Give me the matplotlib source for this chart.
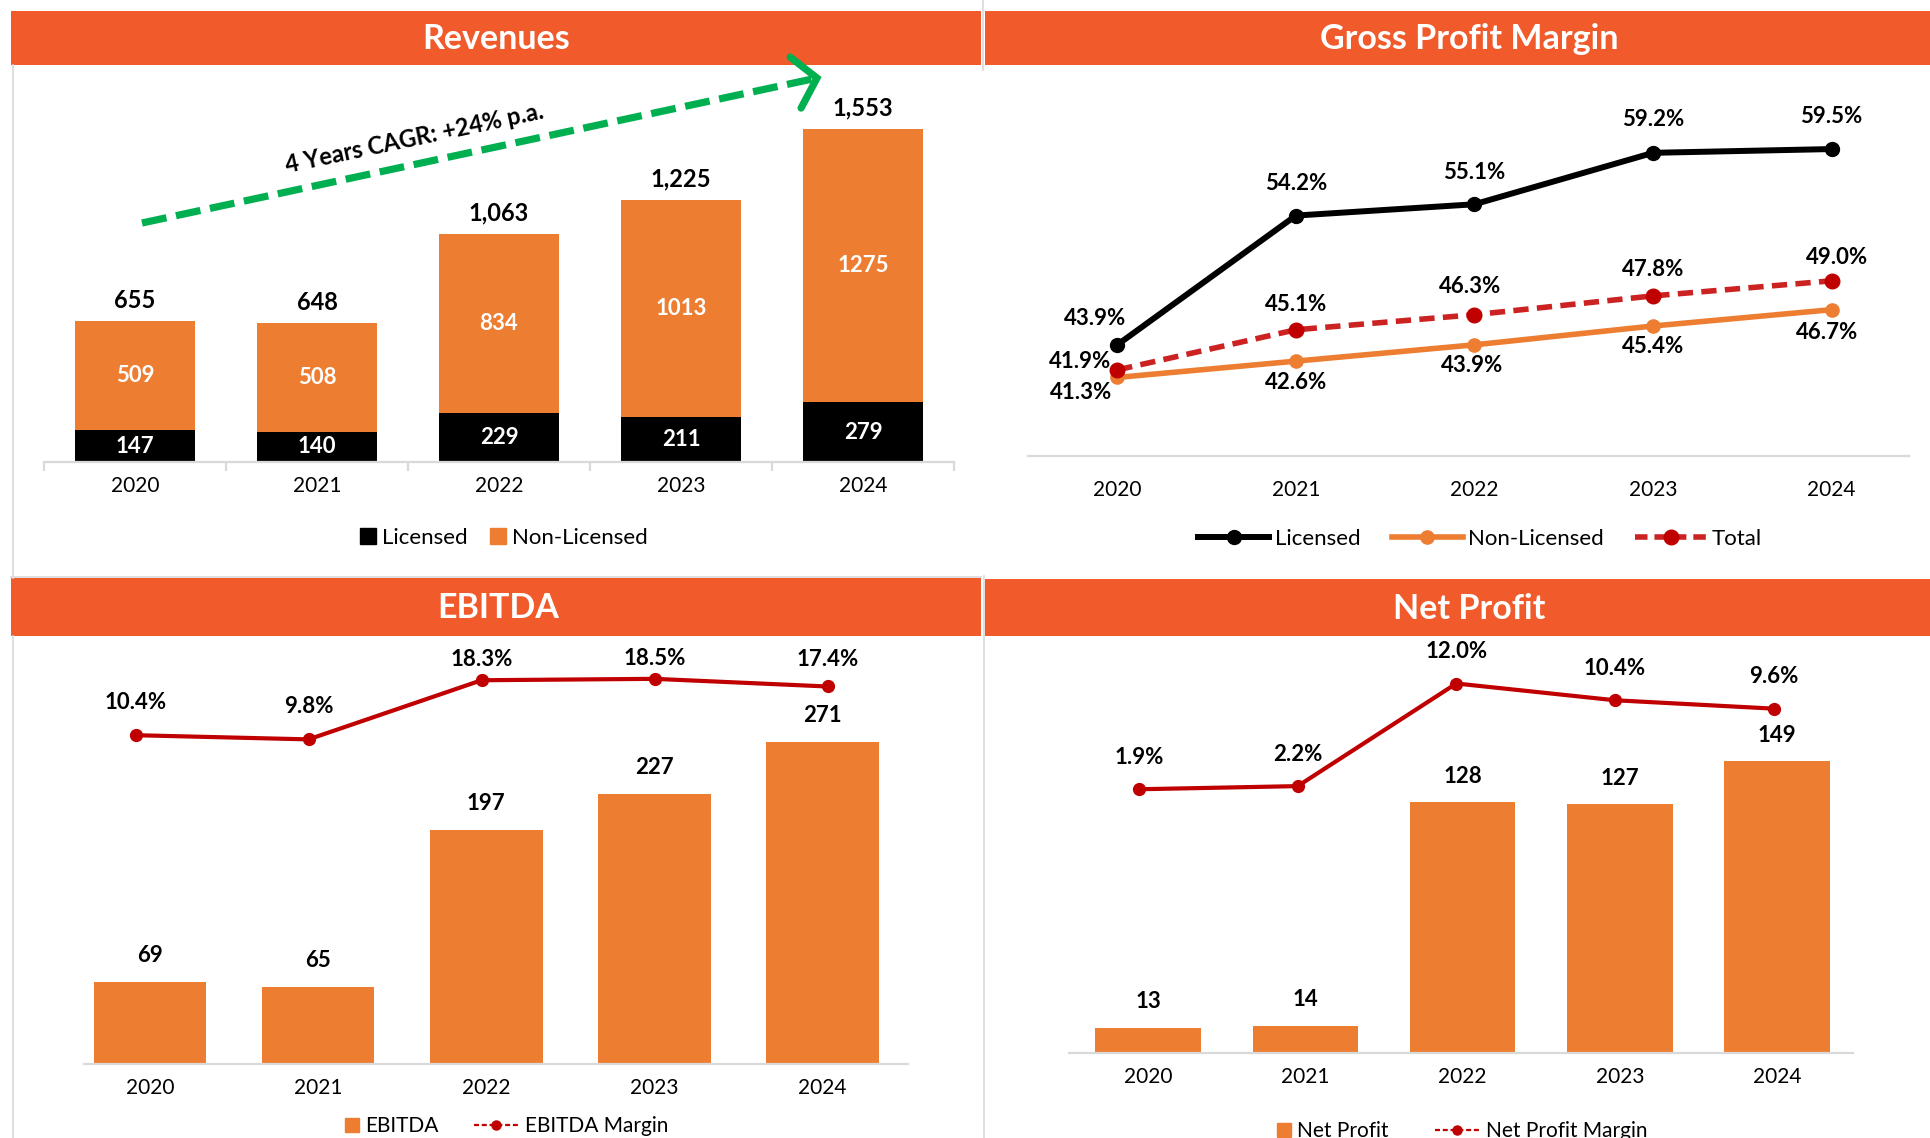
import math
import matplotlib
matplotlib.use("Agg")
import matplotlib.pyplot as plt
from matplotlib.patches import Rectangle, Patch
from matplotlib.lines import Line2D

plt.rcParams['font.family'] = ['Lato', 'DejaVu Sans']
plt.rcParams['lines.scale_dashes'] = False

# ---------------------------------------------------------------- data
years = ['2020', '2021', '2022', '2023', '2024']

rev_licensed = [147, 140, 229, 211, 279]
rev_non_licensed = [509, 508, 834, 1013, 1275]
rev_total = [655, 648, 1063, 1225, 1553]
cagr_text = '4 Years CAGR: +24% p.a.'

gpm_licensed = [43.9, 54.2, 55.1, 59.2, 59.5]
gpm_non_licensed = [41.3, 42.6, 43.9, 45.4, 46.7]
gpm_total = [41.9, 45.1, 46.3, 47.8, 49.0]

ebitda = [69, 65, 197, 227, 271]
ebitda_margin = [10.4, 9.8, 18.3, 18.5, 17.4]

net_profit = [13, 14, 128, 127, 149]
net_margin = [1.9, 2.2, 12.0, 10.4, 9.6]

# ---------------------------------------------------------------- style
HEADER = '#F15A2B'
ORANGE = '#ED7D31'
DARK_RED = '#C00000'
TOTAL_RED = '#CC2222'
GREEN = '#00B050'
GRID = '#D9D9D9'
FS = 15        # axis labels
LFS = 16       # data labels / legends

W, H = 1931, 1138
fig = plt.figure(figsize=(W / 100, H / 100), dpi=100)


def rect(x0, y0, x1, y1):
    """Axes rectangle from pixel box (origin top-left)."""
    return [x0 / W, 1 - y1 / H, (x1 - x0) / W, (y1 - y0) / H]


def fx(x):
    return x / W


def fy(y):
    return 1 - y / H


def header(x0, y0, x1, y1, title, cx):
    fig.add_artist(Rectangle((fx(x0), fy(y1)), (x1 - x0) / W, (y1 - y0) / H,
                             transform=fig.transFigure, color=HEADER, lw=0))
    fig.text(fx(cx), fy((y0 + y1) / 2 + 1), title, color='white', fontsize=24.5,
             fontweight='bold', ha='center', va='center')


def vline(x, y0, y1):
    fig.add_artist(Line2D([fx(x), fx(x)], [fy(y0), fy(y1)], transform=fig.transFigure,
                          color=GRID, lw=1.2))


def hline(y, x0, x1):
    fig.add_artist(Line2D([fx(x0), fx(x1)], [fy(y), fy(y)], transform=fig.transFigure,
                          color=GRID, lw=1.2))


def base_axes(ax, pad):
    for s in ['top', 'right', 'left']:
        ax.spines[s].set_visible(False)
    ax.spines['bottom'].set_color(GRID)
    ax.spines['bottom'].set_linewidth(1.6)
    ax.set_yticks([])
    ax.set_xticks(range(len(years)))
    ax.set_xticklabels(years, fontsize=FS)
    ax.tick_params(axis='x', which='major', length=0, pad=pad)
    ax.patch.set_alpha(0)


def label(ax, x, y, text, dx=0, dy=0, color='black', weight='bold', size=LFS):
    ax.annotate(text, (x, y), xytext=(dx, dy), textcoords='offset pixels',
                ha='center', va='center', fontsize=size, fontweight=weight,
                color=color, annotation_clip=False)


def single_legend(handle, px, py, handlelength, handleheight=0.7):
    fig.legend(handles=[handle], loc='center left',
               bbox_to_anchor=(fx(px), fy(py)), frameon=False, fontsize=FS,
               handlelength=handlelength, handleheight=handleheight,
               handletextpad=0.3, borderpad=0, borderaxespad=0)


# ---------------------------------------------------------------- panel frames
vline(13, 65, 578)
vline(13, 636, H)
vline(983, 0, 70)
vline(984, 576, H)
hline(577, 11, 981)

header(11, 11, 981, 65, 'Revenues', 496)
header(985, 11, W, 65, 'Gross Profit Margin', 1469)
header(11, 578, 981, 636, 'EBITDA', 498)
header(985, 579, W, 636, 'Net Profit', 1469)

x = list(range(len(years)))

# ---------------------------------------------------------------- Revenues
ax = fig.add_axes(rect(44, 70, 954, 462))
base_axes(ax, pad=10)
ax.set_xlim(-0.5, 4.5)
ax.set_ylim(0, 1553 * 392 / 333)
ax.set_xticks([i - 0.5 for i in range(len(years) + 1)], minor=True)
ax.tick_params(axis='x', which='minor', length=6.5, width=1.6, color=GRID)
ax.bar(x, rev_licensed, width=0.66, color='black')
ax.bar(x, rev_non_licensed, width=0.66, bottom=rev_licensed, color=ORANGE)
for i in x:
    label(ax, i, rev_licensed[i] / 2, str(rev_licensed[i]), color='white')
    label(ax, i, rev_licensed[i] + rev_non_licensed[i] / 2, str(rev_non_licensed[i]),
          color='white')
    label(ax, i, rev_licensed[i] + rev_non_licensed[i], f'{rev_total[i]:,}', dy=21,
          size=17)

fig.legend(handles=[Patch(color='black', label='Licensed'),
                    Patch(color=ORANGE, label='Non-Licensed')],
           loc='center', bbox_to_anchor=(fx(504), fy(538)), ncol=2, frameon=False,
           fontsize=LFS, handlelength=0.7, handleheight=0.7, handletextpad=0.3,
           columnspacing=1.0)

# growth arrow
x0, y0, tip_x, tip_y = 142, 223, 817, 78
dxv, dyv = tip_x - x0, tip_y - y0
ln = math.hypot(dxv, dyv)
ux, uy = dxv / ln, dyv / ln
end_x, end_y = tip_x - ux * 4, tip_y - uy * 4
shaft = Line2D([fx(x0), fx(end_x)], [fy(y0), fy(end_y)], transform=fig.transFigure,
               color=GREEN, lw=5.2, solid_capstyle='butt', dash_capstyle='butt')
shaft.set_dashes((18, 7))
fig.add_artist(shaft)
arm = 34
pts = []
for ang in (math.radians(50), math.radians(-50)):
    bx, by = -ux, -uy
    rx = bx * math.cos(ang) - by * math.sin(ang)
    ry = bx * math.sin(ang) + by * math.cos(ang)
    pts.append((tip_x + arm * rx, tip_y + arm * ry))
fig.add_artist(Line2D([fx(pts[0][0]), fx(tip_x), fx(pts[1][0])],
                      [fy(pts[0][1]), fy(tip_y), fy(pts[1][1])],
                      transform=fig.transFigure, color=GREEN, lw=5.2,
                      solid_joinstyle='miter', solid_capstyle='round'))
fig.text(fx(414), fy(138), cagr_text, rotation=12, ha='center', va='center',
         fontsize=17, fontweight='bold', rotation_mode='anchor')

# ---------------------------------------------------------------- Gross Profit Margin
ax = fig.add_axes(rect(1028, 70, 1909, 456))
base_axes(ax, pad=17)
ax.set_xlim(-0.5, 4.433)
ax.set_ylim(35.04, 65.8)
ax.plot(x, gpm_non_licensed, color=ORANGE, lw=4, marker='o', ms=9.5, zorder=3)
tot_line, = ax.plot(x, gpm_total, color=TOTAL_RED, lw=4, marker='o', ms=10.5,
                    markerfacecolor=DARK_RED, markeredgecolor=DARK_RED, zorder=4,
                    dash_capstyle='butt')
tot_line.set_dashes((11, 6))
ax.plot(x, gpm_licensed, color='black', lw=4.3, marker='o', ms=10, zorder=5)

lic_off = [(-22, 26), (0, 32), (0, 32), (0, 33), (0, 33)]
tot_off = [(-37, 8), (0, 25), (-4, 28), (0, 26), (5, 23)]
non_off = [(-36, -15), (0, -21), (-2, -21), (0, -21), (-5, -23)]
for i in x:
    label(ax, i, gpm_licensed[i], f'{gpm_licensed[i]:.1f}%', *lic_off[i])
    label(ax, i, gpm_total[i], f'{gpm_total[i]:.1f}%', *tot_off[i])
    label(ax, i, gpm_non_licensed[i], f'{gpm_non_licensed[i]:.1f}%', *non_off[i])

h_lic = Line2D([], [], color='black', lw=4.3, marker='o', ms=10, label='Licensed')
h_non = Line2D([], [], color=ORANGE, lw=4, marker='o', ms=9.5, label='Non-Licensed')
h_tot = Line2D([], [], color=TOTAL_RED, lw=4, marker='o', ms=10.5,
               markerfacecolor=DARK_RED, markeredgecolor=DARK_RED, label='Total')
h_tot.set_dashes((9, 5))
fig.legend(handles=[h_lic, h_non, h_tot], loc='center',
           bbox_to_anchor=(fx(1480), fy(539)), ncol=3, frameon=False, fontsize=LFS,
           handlelength=3.2, handletextpad=0.25, columnspacing=1.4)


# ---------------------------------------------------------------- bar + margin panels
def bar_margin_panel(box, xlim_bar, ymax, xlim_line, ylim_line, values, margins,
                     bar_dy, margin_dy, pad, legend_pos, bar_name, margin_name):
    ax = fig.add_axes(rect(*box))
    base_axes(ax, pad=pad)
    ax.set_xlim(*xlim_bar)
    ax.set_ylim(0, ymax)
    ax.bar(x, values, width=0.67, color=ORANGE)
    for i in x:
        label(ax, i, values[i], str(values[i]), dy=bar_dy)

    ax2 = fig.add_axes(rect(*box))
    ax2.set_axis_off()
    ax2.set_xlim(*xlim_line)
    ax2.set_ylim(*ylim_line)
    ax2.plot(x, margins, color=DARK_RED, lw=3, marker='o', ms=8.5)
    for i in x:
        label(ax2, i, margins[i], f'{margins[i]:.1f}%', dy=margin_dy[i])

    sq_x, line_x, ly = legend_pos
    single_legend(Patch(color=ORANGE, label=bar_name), sq_x, ly, 0.68, 0.68)
    h_m = Line2D([], [], color=DARK_RED, lw=1.6, marker='o', ms=6.5,
                 label=margin_name)
    h_m.set_dashes((3.6, 2.0))
    single_legend(h_m, line_x, ly, 2.15)


bar_margin_panel((84, 650, 908, 1064), (-0.393, 4.509), 348,
                 (-0.298, 4.465), (-36.85, 22.645), ebitda, ebitda_margin,
                 26, [33, 33, 21, 20, 27], 10, (345, 474, 1126), 'EBITDA',
                 'EBITDA Margin')

bar_margin_panel((1069, 650, 1853, 1053), (-0.502, 4.482), 205.8,
                 (-0.442, 4.501), (-23.29, 15.2), net_profit, net_margin,
                 26, [32] * 5, 10, (1277, 1435, 1131), 'Net Profit',
                 'Net Profit Margin')

fig.savefig('out.png', dpi=100)
